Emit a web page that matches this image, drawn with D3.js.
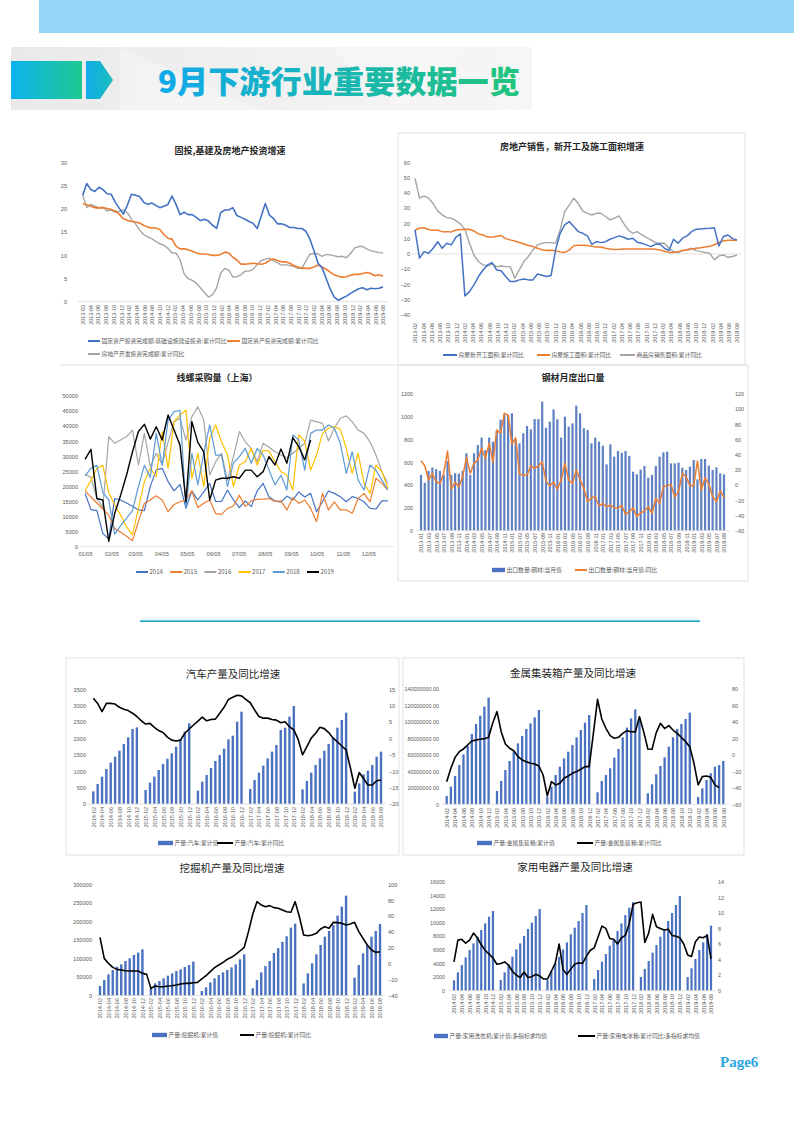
<!DOCTYPE html>
<html>
<head>
<meta charset="utf-8">
<script src="https://cdn.jsdelivr.net/npm/d3@7"></script>
<style>
	html, body { margin: 0; padding: 0; background: #fff; }
	svg { display: block; font-family: "Noto Sans CJK SC", "Noto Sans", sans-serif; }
</style>
</head>
<body>
<svg id="page" width="794" height="1123"></svg>
<script>

/*
 * Data
 */

// 固投,基建及房地产投资增速 (累计同比, %)
var c1Labels = '2013-03 2013-04 2013-06 2013-08 2013-10 2013-12 2014-02 2014-04 2014-06 2014-08 2014-10 2014-12 2015-02 2015-04 2015-06 2015-08 2015-10 2015-12 2016-02 2016-04 2016-06 2016-08 2016-10 2016-12 2017-02 2017-04 2017-06 2017-08 2017-10 2017-12 2018-02 2018-04 2018-06 2018-08 2018-10 2018-12 2019-02 2019-04 2019-06 2019-08'.split(' ');
var c1Ticks = [0, 5, 10, 15, 20, 25, 30];
var c1Infra = [23.0, 25.5, 24.2, 23.8, 24.7, 24.2, 23.3, 23.2, 21.5, 20.2, 18.9, 20.8, 23.2, 23.0, 22.7, 21.5, 21.0, 21.3, 20.8, 20.3,
	20.6, 21.0, 22.8, 21.0, 18.8, 19.3, 18.8, 18.8, 18.2, 17.5, 17.8, 17.4, 16.5, 15.8, 19.2, 19.8, 19.8, 20.3, 18.6, 18.2,
	17.8, 17.3, 16.9, 15.8, 18.5, 21.2, 18.7, 18.0, 16.8, 16.8, 16.5, 16.0, 16.0, 15.8, 15.8, 15.2, 13.5, 11.0, 8.3, 7.3,
	5.0, 2.7, 1.0, 0.3, 0.8, 1.2, 1.8, 2.3, 2.8, 3.0, 2.6, 2.9, 2.8, 2.9, 3.2];
var c1Fai = [21.2, 20.9, 20.6, 20.3, 20.2, 20.3, 20.1, 19.9, 19.6, 18.9, 17.9, 17.6, 17.3, 17.2, 17.0, 16.5, 16.1, 15.9, 15.9, 15.6,
	14.5, 13.7, 13.5, 12.0, 11.4, 11.4, 11.2, 10.9, 10.5, 10.3, 10.3, 10.2, 10.0, 10.0, 10.2, 10.7, 10.5, 9.6, 9.0, 8.1,
	8.1, 8.2, 8.3, 8.2, 8.1, 8.3, 8.9, 9.2, 8.9, 8.6, 8.6, 8.3, 7.8, 7.5, 7.3, 7.2, 7.2, 7.5, 7.9, 7.5,
	7.0, 6.4, 5.8, 5.5, 5.3, 5.4, 5.7, 5.9, 5.9, 6.1, 6.3, 6.1, 5.6, 5.8, 5.5];
var c1Estate = [23.0, 20.3, 21.0, 20.6, 20.3, 20.4, 19.6, 19.8, 19.3, 19.5, 19.8, 19.2, 17.8, 16.8, 15.5, 14.5, 14.0, 13.6, 13.0, 12.5,
	12.2, 11.5, 10.5, 10.5, 9.0, 6.0, 5.0, 4.6, 4.0, 3.0, 2.0, 1.0, 1.5, 3.0, 6.2, 7.2, 6.8, 5.3, 5.4, 5.8,
	6.6, 6.6, 7.0, 8.0, 8.9, 9.2, 9.4, 8.8, 8.4, 7.9, 8.0, 7.8, 7.6, 7.2, 7.2, 8.8, 10.3, 10.4, 10.3, 9.8,
	10.2, 10.1, 9.9, 9.7, 9.8, 9.5, 10.4, 11.6, 11.9, 11.9, 11.4, 11.0, 10.8, 10.6, 10.5];

// 房地产销售，新开工及施工面积增速 (累计同比, %)
var c2Labels = '2013-02 2013-04 2013-06 2013-08 2013-10 2013-12 2014-02 2014-04 2014-06 2014-08 2014-10 2014-12 2015-02 2015-04 2015-06 2015-08 2015-10 2015-12 2016-02 2016-04 2016-06 2016-08 2016-10 2016-12 2017-02 2017-04 2017-06 2017-08 2017-10 2017-12 2018-02 2018-04 2018-06 2018-08 2018-10 2018-12 2019-02 2019-04 2019-06 2019-08'.split(' ');
var c2Ticks = [-40, -30, -20, -10, 0, 10, 20, 30, 40, 50, 60];
var c2NewStarts = [15.7, -2.8, 1.5, 0.4, 3.7, 8.0, 3.7, 7.0, 5.9, 10.9, 13.1, -27.5, -24.7, -20.3, -14.8, -10.5, -7.2, -5.7, -10.5, -11.0,
	-14.8, -18.1, -18.1, -17.0, -16.4, -17.0, -17.0, -13.1, -14.0, -14.8, -14.2, 2.6, 13.5, 19.0, 21.2, 17.9, 14.6, 13.5, 11.8, 6.3,
	8.1, 7.4, 8.0, 9.6, 10.7, 11.8, 10.9, 9.6, 10.3, 7.7, 7.0, 5.9, 4.8, 6.3, 6.5, 3.7, 2.2, 9.6, 7.0, 10.3,
	11.8, 14.6, 16.2, 16.4, 16.6, 16.8, 17.2, 5.2, 11.4, 12.4, 10.0, 9.2];
var c2UnderConstr = [15.5, 17.0, 17.0, 16.0, 15.5, 15.5, 14.6, 14.6, 14.4, 15.7, 16.0, 16.0, 16.2, 15.0, 13.1, 12.4, 11.0, 11.0, 11.5, 12.0,
	10.0, 9.2, 8.5, 7.5, 6.5, 5.5, 4.8, 3.7, 2.8, 2.2, 2.4, 2.0, 1.3, 1.0, 2.5, 5.3, 5.7, 5.7, 5.5, 5.0,
	4.6, 4.5, 3.7, 3.2, 2.9, 3.0, 3.2, 3.2, 3.2, 3.2, 3.2, 3.2, 3.2, 3.0, 2.6, 1.8, 1.0, 1.0, 1.5, 2.2,
	2.6, 3.2, 3.7, 4.1, 4.6, 5.0, 6.0, 7.5, 8.5, 9.0, 9.0, 8.8];
var c2Sales = [49.6, 36.5, 38.0, 36.5, 33.0, 28.2, 25.5, 23.8, 23.4, 21.8, 19.7, 16.2, 7.0, -0.7, -5.0, -7.2, -7.9, -6.6, -8.3, -7.9,
	-8.3, -8.3, -15.9, -10.5, -5.0, -1.7, 2.6, 5.9, 7.0, 7.4, 7.4, 7.0, 15.7, 27.7, 32.0, 36.5, 33.0, 28.0, 26.6, 25.5,
	26.6, 26.6, 24.5, 22.3, 23.4, 24.9, 20.0, 15.7, 13.5, 14.6, 12.4, 10.9, 9.2, 7.4, 7.0, 7.0, 3.7, 1.5, 0.9, 2.2,
	3.0, 3.7, 2.2, 1.5, 0.9, 0.4, -3.9, -1.3, -0.7, -2.2, -1.7, -0.7];

// 线螺采购量（上海）, weekly from 01/05
var c3Ticks = ['01/05', '02/05', '03/05', '04/05', '05/05', '06/05', '07/05', '08/05', '09/05', '10/05', '11/05', '12/05'];
var c3YTicks = [0, 5000, 10000, 15000, 20000, 25000, 30000, 35000, 40000, 45000, 50000];
var c3Years = ['2014', '2015', '2016', '2017', '2018', '2019'];
var c3y2014 = [17700, 12300, 12000, 4400, 2500, 16000, 15500, 14500, 13400, 12200, 12000, 20000, 25500, 26000, 21600, 18500, 20700, 12700, 18500, 15500,
	18200, 21000, 15000, 15000, 18800, 15500, 13000, 15200, 13300, 18500, 21000, 16500, 15200, 14800, 16800, 15500, 18200, 16500, 17700, 11600,
	14900, 18500, 17700, 16600, 14900, 16600, 16000, 14900, 12700, 12500, 15200, 15200];
var c3y2015 = [18500, 16500, 14500, 12500, 10500, 6000, 4800, 3500, 2000, 8300, 14400, 15500, 16900, 15500, 11600, 14000, 14900, 15500, 18500, 13000,
	14400, 15500, 11000, 10700, 12700, 13500, 17100, 13300, 15200, 15700, 15800, 16000, 15000, 15200, 12200, 16300, 14400, 15500, 12700, 8300,
	17700, 12200, 14900, 12200, 12200, 11100, 16000, 17700, 14900, 22700, 21000, 18800];
var c3y2016 = [24000, 23000, 16000, 13000, 36500, 34300, 35400, 36500, 38700, 27100, 37600, 26500, 31000, 27300, 34800, 41500, 42600, 35400, 43100, 46400,
	42000, 23800, 28200, 31000, 22100, 29900, 38200, 34800, 32600, 28200, 34300, 33000, 31500, 30400, 29500, 31000, 32600, 34300, 42000, 41500,
	40900, 35100, 39300, 42600, 43400, 41500, 38700, 37600, 34800, 30400, 24900, 21000];
var c3y2017 = [18500, 22000, 26000, 27000, 18000, 13800, 10500, 6500, 3900, 12700, 21600, 26000, 23200, 38200, 26000, 41500, 43700, 45300, 22700, 31000,
	19900, 35900, 40400, 34800, 30400, 19900, 27100, 28200, 32600, 27100, 32000, 31700, 28200, 24900, 23800, 18800, 37100, 35000, 25400, 30400,
	37600, 39300, 39800, 39000, 32600, 24300, 31000, 21000, 17700, 27100, 24900, 19500];
var c3y2018 = [23500, 26000, 27000, 18000, 15500, 4200, 7000, 9500, 12000, 20000, 27000, 23000, 37600, 27000, 42000, 44800, 45200, 13000, 31000, 20500,
	31000, 40400, 30400, 30400, 20000, 27700, 29900, 32600, 27700, 32600, 30400, 25400, 20500, 23700, 18800, 37100, 35400, 25400, 37600, 38700,
	38700, 40400, 39300, 34300, 24300, 31500, 22100, 18800, 27100, 25400, 22100, 18800];
var c3y2019 = [29000, 32300, 16000, 15500, 1800, 11000, 17100, 23800, 31500, 38200, 40600, 35700, 39800, 35400, 43700, 38700, 33700, 14900, 41500, 34600,
	31500, 15500, 22100, 22700, 22700, 23200, 22700, 25400, 25400, 23200, 24900, 29900, 27100, 32400, 27700, 36200, 33200, 28800, 35400];

// 钢材月度出口量 (万吨, 同比 %)
var c4Labels = '2013-01 2013-03 2013-05 2013-07 2013-09 2013-11 2014-01 2014-03 2014-05 2014-07 2014-09 2014-11 2015-01 2015-03 2015-05 2015-07 2015-09 2015-11 2016-01 2016-03 2016-05 2016-07 2016-09 2016-11 2017-01 2017-03 2017-05 2017-07 2017-09 2017-11 2018-01 2018-03 2018-05 2018-07 2018-09 2018-11 2019-01 2019-03 2019-05 2019-07 2019-09'.split(' ');
var c4LeftTicks = [0, 200, 400, 600, 800, 1000, 1200];
var c4RightTicks = [-60, -40, -20, 0, 20, 40, 60, 80, 100, 120];
var c4Export = [490, 420, 525, 555, 540, 525, 490, 610, 490, 505, 500, 525,
	680, 490, 680, 752, 817, 708, 817, 781, 880, 975, 1021, 1015,
	1030, 796, 767, 855, 919, 890, 980, 980, 1133, 904, 957, 1065,
	978, 817, 1001, 913, 942, 1098, 1030, 899, 884, 767, 817, 781,
	746, 582, 758, 650, 700, 685, 700, 656, 518, 495, 536, 568,
	465, 489, 568, 650, 688, 694, 591, 591, 597, 553, 533, 562,
	620, 451, 629, 629, 571, 533, 556, 503, 495];
var c4Yoy = [32, 25.6, 6.7, 15.5, 4.5, 1.9, 15.5, 45, -5.1, 3.7,
	-2, 11.1, 36.6, 15.5, 28.7, 33, 48.4, 35.3, 55, 30,
	72.6, 68.2, 94.5, 92.3, 53.7, 62.5, 14.2, 13.3, 13.3, 25.2,
	22.1, 25.2, 30.9, 5.4, -0.7, 3.7, -5.1, 6.7, 28.7, 6.7,
	2.3, 20, 6.7, -4.2, -21.8, -16.5, -15.2, -27.5, -24, -28.4,
	-26.2, -29.7, -30, -27, -38.4, -35, -29.7, -41.5, -36.3, -34,
	-28.4, -37.2, -17.4, -24, -2, -0.7, 1, -15.2, -8.6, 15.5,
	11.1, -0.7, -0.7, 31.8, -6.4, 9.8, 1, -15.2, -21.8, -7.7,
	-16.5];

// Monthly axis shared by the four production charts, 2014-02 .. 2019-08 (January has no cumulative value)
var prodLabels = '2014-02 2014-04 2014-06 2014-08 2014-10 2014-12 2015-02 2015-04 2015-06 2015-08 2015-10 2015-12 2016-02 2016-04 2016-06 2016-08 2016-10 2016-12 2017-02 2017-04 2017-06 2017-08 2017-10 2017-12 2018-02 2018-04 2018-06 2018-08 2018-10 2018-12 2019-02 2019-04 2019-06 2019-08'.split(' ');

// 汽车产量及同比增速
var c5LeftTicks = [0, 500, 1000, 1500, 2000, 2500, 3000, 3500];
var c5RightTicks = [-20, -15, -10, -5, 0, 5, 10, 15];
var c5Output = [386, 610, 834, 1068, 1261, 1444, 1627, 1830, 2034, 2288, 2339, null,
	427, 651, 834, 1037, 1220, 1383, 1546, 1749, 1973, 2207, 2461, null,
	407, 681, 885, 1098, 1312, 1495, 1688, 1973, 2085, 2512, 2817, null,
	458, 732, 956, 1170, 1393, 1597, 1800, 2258, 2329, 2665, 2990, null,
	447, 702, 956, 1190, 1393, 1627, 1830, 2034, 2329, 2563, 2787, null,
	376, 631, 905, 1017, 1190, 1444, 1597];
var c5Yoy = [12.3, 10.7, 8.2, 10.7, 10.7, 10.5, 9.5, 8.9, 8.5, 7.7, 6.7, 5.4, 4.4, 4.6, 3.4, 2.4, 1.8, 0.4, -0.5, -0.8,
	-0.5, 1.6, 2.9, 4.1, 5.3, 6.5, 5.4, 5.8, 5.9, 7.7, 9.5, 11.9, 12.6, 13.2, 13.0, 11.9, 10.9, 8.7, 6.7, 6.2,
	6.2, 5.8, 5.6, 4.8, 5.1, 3.6, 2.6, -0.3, -5.0, -2.5, 0.1, 1.6, 3.4, 3.0, 1.8, 0.1, -1.0, -2.3, -3.5, -9.1,
	-15.2, -10.4, -12.2, -14.2, -14.2, -12.9, -12.7];

// 金属集装箱产量及同比增速
var c6LeftTicks = [0, 20000000, 40000000, 60000000, 80000000, 100000000, 120000000, 140000000];
var c6RightTicks = [-60, -40, -20, 0, 20, 40, 60, 80];
var c6Output = [10100000, 21400000, 34400000, 47700000, 60700000, 70800000, 85400000, 97500000, 107600000, 118600000, 129500000, null,
	16200000, 28300000, 41700000, 52600000, 64000000, 74000000, 83000000, 91400000, 98300000, 105600000, 114500000, null,
	9300000, 21400000, 35600000, 45700000, 55800000, 63900000, 72000000, 81300000, 90200000, 99100000, 108400000, null,
	14600000, 28300000, 35600000, 43700000, 56600000, 67200000, 81300000, 93100000, 104400000, 115300000, 105000000, null,
	13400000, 24300000, 36400000, 46500000, 57000000, 70000000, 81300000, 91400000, 97500000, 103600000, 111300000, null,
	8900000, 19400000, 29500000, 37600000, 45700000, 47700000, 52600000];
var c6Yoy = [-32.5, -16.3, -3, 3.9, 7.2, 12, 16.9, 18.1, 18.9, 19.7, 21.3, 39.1, 52.5, 28.2, 13.2, 8, 5.1, -2.1, -6.2, -8.2,
	-10.2, -11, -13.5, -24.4, -49.5, -32.5, -36.5, -34.5, -28.4, -25.6, -22.4, -20.3, -17.5, -14.3, -14.3, 26, 67.5, 43.6, 32.3, 23.4,
	20.1, 21.3, 26.2, 29.4, 28.2, 27.8, 46.4, 28.2, 7.2, 6.8, 27, 38.3, 31.9, 35.5, 30.2, 26.2, 21.3, 16.1, 10, -10.2,
	-36.5, -26.4, -25.6, -27.2, -36.5, -39.8];

// 挖掘机产量及同比增速
var c7LeftTicks = [0, 50000, 100000, 150000, 200000, 250000, 300000];
var c7RightTicks = [-40, -20, 0, 20, 40, 60, 80, 100];
var c7Output = [26000, 42200, 57500, 69200, 78100, 84400, 93400, 100600, 109600, 115900, 124900, null,
	20000, 33200, 39500, 46700, 53900, 60200, 66500, 71000, 77200, 82600, 91600, null,
	12600, 22500, 35900, 46700, 55700, 62900, 69200, 76300, 84400, 97900, 111400, null,
	19800, 42200, 62900, 79900, 93400, 115000, 128000, 145000, 160000, 183200, 194000, null,
	33200, 60200, 87100, 111400, 136500, 159000, 174300, 190400, 215600, 239800, 269500, null,
	48500, 82600, 114100, 136500, 159000, 174300, 193100];
var c7Yoy = [33.3, 6.9, 0.6, -4.4, -6.9, -7.7, -8.6, -9, -9, -9, -11.9, -13.2, -30.8, -27.9, -28.7, -28.7, -27.9, -27.4, -26.6, -25.3,
	-24.5, -24.5, -23.7, -23.2, -19, -14.9, -9.8, -4.8, -1.4, 1.9, 5.7, 8.2, 12, 16.2, 20.8, 40.5, 62.3, 78.2, 74, 71.9,
	73.2, 70.7, 69.8, 67.7, 65.6, 64.8, 78.2, 59.3, 36.3, 35.4, 36.3, 38.4, 43.8, 46.8, 44.7, 52.2, 51.8, 51, 48.9, 50.1,
	52.2, 40.5, 32.1, 23.7, 17.4, 14.5, 15.3];

// 家用电器产量及同比增速
var c8LeftTicks = [0, 2000, 4000, 6000, 8000, 10000, 12000, 14000, 16000];
var c8RightTicks = [0, 2, 4, 6, 8, 10, 12, 14];
var c8Washers = [1517, 2691, 3768, 4893, 5969, 6948, 7927, 8905, 9884, 10862, 11694, null,
	1566, 2691, 3866, 4991, 6067, 6948, 8024, 9052, 9982, 10960, 11988, null,
	1566, 2887, 4012, 4942, 6067, 7095, 8269, 9248, 10226, 11401, 12575, null,
	1713, 3034, 4257, 5382, 6606, 7535, 8758, 9884, 11107, 12184, 13000, null,
	2006, 3180, 4355, 5578, 6703, 7927, 9052, 10226, 11401, 12575, 13896, null,
	2006, 3278, 4648, 5969, 7095, 8318, 9541];
var c8Fridges = [3.7, 6.5, 6.6, 6.1, 6.5, 7.4, 6.8, 5.9, 5.2, 4.7, 4.2, 3.4, 3.5, 3.7, 3.3, 2.5, 2.0, 1.7, 2.4, 1.7,
	1.8, 2.1, 1.9, 1.5, 1.5, 2.5, 3.5, 6.0, 2.7, 2.1, 2.8, 3.4, 3.6, 3.5, 4.4, 5.2, 5.5, 6.9, 8.3, 8.0,
	6.7, 6.6, 6.0, 6.8, 7.1, 8.6, 11.1, 11.3, 11.4, 6.2, 7.4, 9.8, 8.2, 8.0, 7.8, 7.9, 7.1, 7.0, 6.8, 6.0,
	4.6, 4.4, 6.3, 6.9, 6.8, 7.1, 4.1];


/*
 * Shared styles and helpers
 */

var BLUE = '#4472c4', ORANGE = '#ed7d31', GRAY = '#a5a5a5', YELLOW = '#ffc000', LIGHTBLUE = '#5b9bd5', BLACK = '#000000';
var BAR = '#4a72c0';
var TICK_COLOR = '#595959', RULE = '#d9d9d9';
var TICK_FONT = 'Liberation Sans, Arial, sans-serif';
var LEGEND_SIZE = 5.8;

var svg = d3.select('#page');
var defs = svg.append('defs');

function linGrad(id, stops) {
	var g = defs.append('linearGradient').attr('id', id).attr('x1', 0).attr('y1', 0).attr('x2', 1).attr('y2', 0);
	stops.forEach(function(s) { g.append('stop').attr('offset', s[0]).attr('stop-color', s[1]); });
}

// Strip Excel-like axes down to their labels
function styleAxis(sel, size) {
	sel.select('.domain').remove();
	sel.selectAll('.tick line').remove();
	sel.selectAll('text').attr('font-size', size).attr('fill', TICK_COLOR).attr('font-family', TICK_FONT);
}

function chartTitle(text, cx, y, size, weight) {
	svg.append('text').attr('x', cx).attr('y', y).attr('text-anchor', 'middle')
		.attr('font-size', size).attr('font-weight', weight).attr('fill', '#262626').text(text);
}

function panelBox(x, y, w, h) {
	svg.append('rect').attr('x', x).attr('y', y).attr('width', w).attr('height', h)
		.attr('fill', 'none').attr('stroke', RULE).attr('stroke-width', 0.8);
}

function hRule(x1, x2, y) {
	svg.append('line').attr('x1', x1).attr('x2', x2).attr('y1', y).attr('y2', y)
		.attr('stroke', RULE).attr('stroke-width', 0.8);
}

// Value labels on the left (right aligned) or the right (left aligned), plain integers like Excel
function valueAxis(scale, ticks, x, side, size, fmt) {
	var ax = (side === 'left' ? d3.axisLeft(scale) : d3.axisRight(scale))
		.tickValues(ticks).tickSize(0).tickPadding(0)
		.tickFormat(fmt || d3.format('d'));
	var g = svg.append('g').attr('transform', 'translate(' + x + ',0)').call(ax);
	styleAxis(g, size);
}

// Category labels rotated to read bottom-up, top end hanging below the axis
function rotatedAxis(labels, x0, x1, top, size) {
	var p = d3.scalePoint().domain(labels).range([x0, x1]);
	var g = svg.append('g').attr('transform', 'translate(0,' + top + ')').call(d3.axisBottom(p).tickSize(0));
	styleAxis(g, size);
	g.selectAll('text').attr('transform', 'rotate(-90)').attr('text-anchor', 'end')
		.attr('x', 0).attr('y', 0).attr('dy', '0.35em');
}

function legendItem(type, color, x, y, w, text, size) {
	if (type === 'bar') {
		svg.append('rect').attr('x', x).attr('y', y - 2.2).attr('width', w).attr('height', 4.4).attr('fill', color);
	} else {
		svg.append('line').attr('x1', x).attr('x2', x + w).attr('y1', y).attr('y2', y)
			.attr('stroke', color).attr('stroke-width', 2);
	}
	svg.append('text').attr('x', x + w + 1.5).attr('y', y).attr('dy', '0.36em')
		.attr('font-size', size || LEGEND_SIZE).attr('fill', TICK_COLOR).text(text);
}

// Each series is spread evenly between x0 and x1
function drawSeries(values, x0, x1, y, color, width) {
	var xs = d3.scaleLinear().domain([0, values.length - 1]).range([x0, x1]);
	var line = d3.line()
		.defined(function(d) { return d != null; })
		.x(function(d, i) { return xs(i); })
		.y(function(d) { return y(d); });
	svg.append('path').datum(values).attr('d', line).attr('fill', 'none')
		.attr('stroke', color).attr('stroke-width', width).attr('stroke-linejoin', 'round');
}

// Bars on the left axis, a line on the right axis, both on the same month index
function drawCombo(o) {
	var n = o.bars.length;
	var x = d3.scaleLinear().domain([0, n - 1]).range([o.x0, o.x1]);
	var yl = d3.scaleLinear().domain(o.left).range([o.yBottom, o.yTop]);
	var yr = d3.scaleLinear().domain(o.right).range([o.yBottom, o.yTop]);

	var bars = o.bars.map(function(v, i) { return { v: v, i: i }; }).filter(function(d) { return d.v != null; });
	svg.append('g').selectAll('rect').data(bars).enter().append('rect')
		.attr('x', function(d) { return x(d.i) - o.barWidth / 2; })
		.attr('y', function(d) { return yl(d.v); })
		.attr('width', o.barWidth)
		.attr('height', function(d) { return yl(0) - yl(d.v); })
		.attr('fill', o.barColor || BAR);

	hRule(o.x0 - 5, o.x1 + 5, yl(0));

	var line = d3.line().x(function(d, i) { return x(i); }).y(function(d) { return yr(d); });
	svg.append('path').datum(o.line).attr('d', line).attr('fill', 'none')
		.attr('stroke', o.lineColor).attr('stroke-width', o.lineWidth).attr('stroke-linejoin', 'round');

	valueAxis(yl, o.leftTicks, o.leftX, 'left', o.tickSize, o.leftFormat);
	valueAxis(yr, o.rightTicks, o.rightX, 'right', o.tickSize);
	rotatedAxis(o.labels, x(0), x((o.labels.length - 1) * o.labelStep), o.labelTop, o.tickSize);
}


/*
 * Page header
 */

linGrad('bannerBg', [[0, '#e9e9e9'], [0.5, '#f1f1f1'], [1, '#f6f6f6']]);
linGrad('blockGrad', [[0, '#0db2ee'], [1, '#1ec98f']]);
linGrad('arrowGrad', [[0, '#11aeea'], [1, '#19bdb8']]);
linGrad('titleGrad', [[0, '#10a9ea'], [1, '#22c47c']]);

svg.append('rect').attr('x', 39).attr('y', 0).attr('width', 755).attr('height', 33).attr('fill', '#93d6f6');
svg.append('rect').attr('x', 11).attr('y', 47).attr('width', 521).attr('height', 63).attr('fill', 'url(#bannerBg)');
// faint facets in the banner background
svg.append('path').attr('d', 'M120,47L260,110H120Z').attr('fill', '#ffffff').attr('opacity', 0.35);
svg.append('path').attr('d', 'M330,47L470,47L400,110Z').attr('fill', '#ffffff').attr('opacity', 0.3);
svg.append('rect').attr('x', 11).attr('y', 61).attr('width', 71).attr('height', 38).attr('fill', 'url(#blockGrad)');
svg.append('path').attr('d', 'M86,61H100L113,80L100,99H86Z').attr('fill', 'url(#arrowGrad)');
svg.append('text').attr('x', 158).attr('y', 93).attr('font-size', 31).attr('font-weight', 900)
	.attr('textLength', 362).attr('lengthAdjust', 'spacingAndGlyphs')
	.attr('fill', 'url(#titleGrad)').text('9月下游行业重要数据一览');


/*
 * Chart 1: 固投,基建及房地产投资增速
 */

(function() {
	var x0 = 82.7, x1 = 383;
	var y = d3.scaleLinear().domain([0, 30]).range([301.7, 162.7]);
	chartTitle('固投,基建及房地产投资增速', 230, 154, 9, 'bold');
	hRule(78, 388, y(0));
	valueAxis(y, c1Ticks, 67, 'left', 5.6);
	rotatedAxis(c1Labels, x0, x1, 305, 5.4);
	drawSeries(c1Estate, x0, x1, y, GRAY, 1.4);
	drawSeries(c1Fai, x0, x1, y, ORANGE, 1.6);
	drawSeries(c1Infra, x0, x1, y, BLUE, 1.6);
	legendItem('line', BLUE, 88, 341, 12, '固定资产投资完成额:基础设施建设投资:累计同比');
	legendItem('line', ORANGE, 227, 341, 13, '固定资产投资完成额:累计同比');
	legendItem('line', GRAY, 88, 354, 12, '房地产开发投资完成额:累计同比');
	hRule(60, 396, 365);
})();


/*
 * Chart 2: 房地产销售，新开工及施工面积增速
 */

(function() {
	var x0 = 415, x1 = 737;
	var y = d3.scaleLinear().domain([-40, 60]).range([315, 162.3]);
	panelBox(398, 133, 347, 232);
	chartTitle('房地产销售，新开工及施工面积增速', 572, 150, 9, 'bold');
	hRule(412, 741, y(0));
	valueAxis(y, c2Ticks, 410, 'left', 5.6);
	rotatedAxis(c2Labels, x0, x1, 323, 5.4);
	drawSeries(c2Sales, x0, x1, y, GRAY, 1.4);
	drawSeries(c2UnderConstr, x0, x1, y, ORANGE, 1.5);
	drawSeries(c2NewStarts, x0, x1, y, BLUE, 1.5);
	legendItem('line', BLUE, 443, 355, 14, '房屋新开工面积:累计同比');
	legendItem('line', ORANGE, 537, 355, 13, '房屋施工面积:累计同比');
	legendItem('line', GRAY, 620, 355, 15, '商品房销售面积:累计同比');
})();


/*
 * Chart 3: 线螺采购量（上海）
 */

(function() {
	var parseDay = d3.timeParse('%Y/%m/%d');
	var tickDates = c3Ticks.map(function(t) { return parseDay('2019/' + t); });
	var x = d3.scaleTime().domain([tickDates[0], tickDates[11]]).range([85, 368.3]);
	var y = d3.scaleLinear().domain([0, 50000]).range([546.7, 396]);
	var weekX = function(d, i) { return x(d3.timeDay.offset(tickDates[0], 7 * i)); };

	chartTitle('线螺采购量（上海）', 217, 381, 9, 'bold');
	hRule(80, 394, y(0));
	valueAxis(y, c3YTicks, 78, 'left', 5.6);

	var ax = d3.axisBottom(x).tickValues(tickDates).tickSize(0).tickPadding(0)
		.tickFormat(function(d, i) { return c3Ticks[i]; });
	var gx = svg.append('g').attr('transform', 'translate(0,' + 552 + ')').call(ax);
	styleAxis(gx, 5.6);

	var series = [
		{ v: c3y2014, c: BLUE },
		{ v: c3y2015, c: ORANGE },
		{ v: c3y2016, c: GRAY },
		{ v: c3y2017, c: YELLOW },
		{ v: c3y2018, c: LIGHTBLUE },
		{ v: c3y2019, c: BLACK }
	];
	series.forEach(function(s) {
		var line = d3.line().x(weekX).y(function(d) { return y(d); });
		svg.append('path').datum(s.v).attr('d', line).attr('fill', 'none')
			.attr('stroke', s.c).attr('stroke-width', s.c === BLACK ? 1.4 : 1.2).attr('stroke-linejoin', 'round');
	});

	series.forEach(function(s, i) {
		legendItem('line', s.c, 136 + i * 34.2, 572, 12, c3Years[i], 6);
	});
})();


/*
 * Chart 4: 钢材月度出口量
 */

(function() {
	panelBox(398, 365, 350, 216);
	chartTitle('钢材月度出口量', 573, 381, 9, 'bold');
	drawCombo({
		bars: c4Export, line: c4Yoy, labels: c4Labels, labelStep: 2,
		x0: 421, x1: 724, yTop: 394, yBottom: 530.7,
		left: [0, 1200], right: [-60, 120],
		leftTicks: c4LeftTicks, rightTicks: c4RightTicks,
		leftX: 413, rightX: 735, labelTop: 533, tickSize: 5.4,
		barWidth: 2.2, barColor: '#5f80c2', lineColor: ORANGE, lineWidth: 1.5
	});
	legendItem('bar', '#4a72c0', 492, 570, 13, '出口数量:钢材:当月值');
	legendItem('line', ORANGE, 575, 570, 12, '出口数量:钢材:当月值:同比');
})();


// Separator between the two blocks of charts
svg.append('line').attr('x1', 140).attr('x2', 700).attr('y1', 620).attr('y2', 620)
	.attr('stroke', '#c9eef6').attr('stroke-width', 1);
svg.append('line').attr('x1', 140).attr('x2', 700).attr('y1', 621.3).attr('y2', 621.3)
	.attr('stroke', '#1a9fc4').attr('stroke-width', 1.4);


/*
 * Chart 5: 汽车产量及同比增速
 */

(function() {
	panelBox(66, 658, 333, 197);
	chartTitle('汽车产量及同比增速', 233, 678, 10.5, 'normal');
	drawCombo({
		bars: c5Output, line: c5Yoy, labels: prodLabels, labelStep: 2,
		x0: 93.3, x1: 381, yTop: 689.3, yBottom: 804,
		left: [0, 3500], right: [-20, 15],
		leftTicks: c5LeftTicks, rightTicks: c5RightTicks,
		leftX: 86, rightX: 389, labelTop: 807, tickSize: 5.6,
		barWidth: 2.4, lineColor: BLACK, lineWidth: 1.6
	});
	legendItem('bar', BAR, 158, 843, 15, '产量:汽车:累计值');
	legendItem('line', BLACK, 217, 843, 16, '产量:汽车:累计同比');
})();


/*
 * Chart 6: 金属集装箱产量及同比增速
 */

(function() {
	panelBox(403, 658, 341, 197);
	chartTitle('金属集装箱产量及同比增速', 573, 677, 10.5, 'normal');
	drawCombo({
		bars: c6Output, line: c6Yoy, labels: prodLabels, labelStep: 2,
		x0: 446.7, x1: 723.3, yTop: 689, yBottom: 804.3,
		left: [0, 140000000], right: [-60, 80],
		leftTicks: c6LeftTicks, rightTicks: c6RightTicks,
		leftFormat: function(d) { return d === 0 ? '0' : d3.format('.2f')(d); },
		leftX: 439, rightX: 732, labelTop: 808, tickSize: 5.4,
		barWidth: 2.3, lineColor: BLACK, lineWidth: 1.6
	});
	legendItem('bar', BAR, 477, 843, 15, '产量:金属集装箱:累计值');
	legendItem('line', BLACK, 577, 843, 16, '产量:金属集装箱:累计同比');
})();


/*
 * Chart 7: 挖掘机产量及同比增速
 */

(function() {
	chartTitle('挖掘机产量及同比增速', 232, 872, 10.5, 'normal');
	drawCombo({
		bars: c7Output, line: c7Yoy, labels: prodLabels, labelStep: 2,
		x0: 100, x1: 380, yTop: 884.3, yBottom: 995.7,
		left: [0, 300000], right: [-40, 100],
		leftTicks: c7LeftTicks, rightTicks: c7RightTicks,
		leftX: 92, rightX: 388, labelTop: 998, tickSize: 5.6,
		barWidth: 2.4, lineColor: BLACK, lineWidth: 1.6
	});
	legendItem('bar', BAR, 152, 1035, 15, '产量:挖掘机:累计值');
	legendItem('line', BLACK, 240, 1035, 14, '产量:挖掘机:累计同比');
})();


/*
 * Chart 8: 家用电器产量及同比增速
 */

(function() {
	chartTitle('家用电器产量及同比增速', 575, 871, 10.5, 'normal');
	drawCombo({
		bars: c8Washers, line: c8Fridges, labels: prodLabels, labelStep: 2,
		x0: 454, x1: 711, yTop: 881.7, yBottom: 990.7,
		left: [0, 16000], right: [0, 14],
		leftTicks: c8LeftTicks, rightTicks: c8RightTicks,
		leftX: 445, rightX: 718, labelTop: 994, tickSize: 5.4,
		barWidth: 2.2, lineColor: BLACK, lineWidth: 1.6
	});
	legendItem('bar', BAR, 434, 1036, 14, '产量:家用洗衣机:累计值:多指标求均值');
	legendItem('line', BLACK, 578, 1036, 17, '产量:家用电冰箱:累计同比:多指标求均值');
})();


// Page number
svg.append('text').attr('x', 720).attr('y', 1067).attr('font-family', 'Liberation Serif, serif')
	.attr('font-weight', 'bold').attr('font-size', 15).attr('fill', '#2aa7e1').text('Page6');

</script>
</body>
</html>
